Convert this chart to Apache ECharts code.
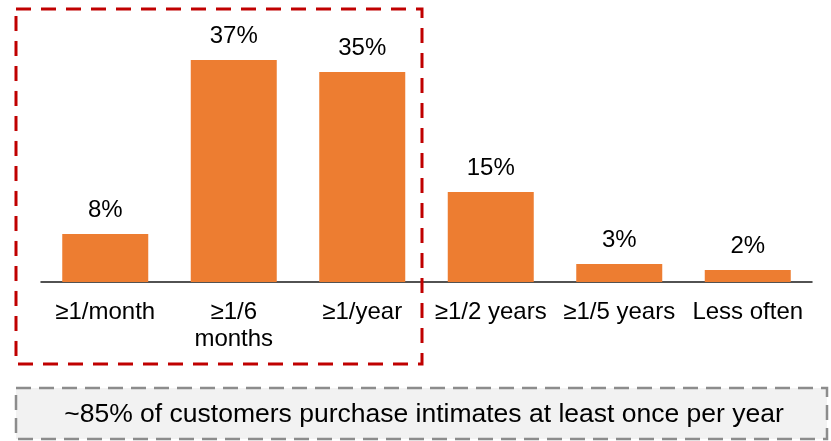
<!DOCTYPE html>
<html>
<head>
<meta charset="utf-8">
<script src="https://cdn.jsdelivr.net/npm/echarts@6/dist/echarts.min.js"></script>
<style>
  html, body { margin: 0; padding: 0; background: #ffffff; }
  #chart { width: 831px; height: 441px; }
</style>
</head>
<body>
<div id="chart"></div>
<script>
// Purchase frequency categories and share of customers (%)
const categories = ['≥1/month', '≥1/6\nmonths', '≥1/year', '≥1/2 years', '≥1/5 years', 'Less often'];
const shares = [8, 37, 35, 15, 3, 2];
const summaryText = '~85% of customers purchase intimates at least once per year';

const FONT = '"Liberation Sans", Arial, sans-serif';

const chart = echarts.init(document.getElementById('chart'), null, { renderer: 'canvas' });

chart.setOption({
  animation: false,
  backgroundColor: '#ffffff',
  grid: { left: 41, right: 19, top: 42, bottom: 159, containLabel: false },
  xAxis: {
    type: 'category',
    data: categories,
    axisLine: { lineStyle: { color: '#1a1a1a', width: 1.5 } },
    axisTick: { show: false },
    axisLabel: {
      color: '#000000',
      fontFamily: FONT,
      fontSize: 24,
      lineHeight: 27,
      margin: 17,
      interval: 0
    }
  },
  yAxis: {
    type: 'value',
    min: 0,
    max: 40,
    show: false,
    splitLine: { show: false }
  },
  series: [{
    type: 'bar',
    data: shares,
    barWidth: 86,
    itemStyle: { color: '#ED7D31' },
    label: {
      show: true,
      position: 'top',
      distance: 12,
      formatter: '{c}%',
      color: '#000000',
      fontFamily: FONT,
      fontSize: 24
    }
  }],
  graphic: [
    // Highlight frame around the at-least-yearly group
    {
      type: 'rect',
      shape: { x: 16, y: 9, width: 406, height: 355 },
      style: {
        fill: 'none',
        stroke: '#C00000',
        lineWidth: 3,
        lineDash: [15, 10]
      },
      z: 10
    },
    // Summary callout box
    {
      type: 'rect',
      shape: { x: 16, y: 388, width: 811, height: 51 },
      style: {
        fill: '#F2F2F2',
        stroke: '#8C8C8C',
        lineWidth: 2.5,
        lineDash: [15, 8]
      },
      z: 10
    },
    {
      type: 'text',
      x: 424,
      y: 415,
      style: {
        text: summaryText,
        fill: '#000000',
        font: '26.5px "Liberation Sans", Arial, sans-serif',
        align: 'center',
        verticalAlign: 'middle'
      },
      z: 11
    }
  ]
});
</script>
</body>
</html>
